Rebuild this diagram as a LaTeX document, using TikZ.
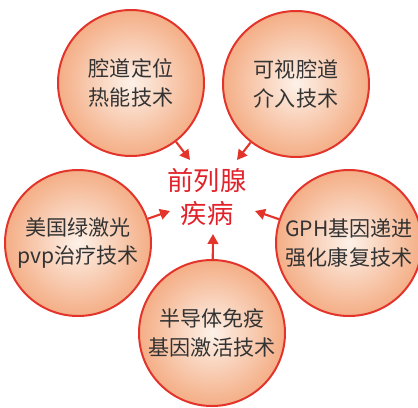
\documentclass[tikz,border=0pt]{standalone}
\usepackage{fontspec}
\setmainfont{Noto Sans CJK SC}
\usetikzlibrary{arrows.meta}
\definecolor{ringred}{HTML}{E3342B}
\definecolor{peachin}{HTML}{FDF1E8}
\definecolor{peachout}{HTML}{F4AE86}
\definecolor{textgray}{HTML}{333333}
\definecolor{titlered}{HTML}{E1222A}
\tikzset{
    bubble/.style={circle, draw=ringred, line width=1.7pt, minimum size=43.8mm,
        inner sep=0pt, inner color=peachin, outer color=peachout,
        text=textgray, align=center, font=\fontsize{18pt}{24.7pt}\selectfont},
    pointer/.style={draw=ringred, line width=1.8pt,
        -{Triangle[length=3mm,width=3.2mm]}}
}
\begin{document}
\begin{tikzpicture}[x=0.3mm,y=-0.3mm]
      \useasboundingbox (0,0) rectangle (418,407);
      % the five bubbles
      \node[bubble] (lumen)  at (131,83)  {腔道定位\\热能技术};
      \node[bubble] (visual) at (296,84)  {可视腔道\\介入技术};
      \node[bubble] (laser)  at (78,243)  {美国绿激光\\pvp治疗技术};
      \node[bubble] (gene)   at (349,243) {GPH基因递进\\强化康复技术};
      \node[bubble] (semi)   at (212,333) {半导体免疫\\基因激活技术};
      % centre title
      \node[text=titlered, align=center, font=\fontsize{22.4pt}{28pt}\selectfont]
          (title) at (207,197) {前列腺\\疾病};
      % arrow tips
      \coordinate (tipA) at (190,160);
      \coordinate (tipB) at (237,160);
      \coordinate (tipC) at (170,211);
      \coordinate (tipD) at (255,211);
      \coordinate (tipE) at (213,234);
      \draw[pointer] (lumen) -- (tipA);
      \draw[pointer] (visual) -- (tipB);
      \draw[pointer] (laser) -- (tipC);
      \draw[pointer] (gene) -- (tipD);
      \draw[pointer] (semi) -- (tipE);
\end{tikzpicture}
\end{document}
